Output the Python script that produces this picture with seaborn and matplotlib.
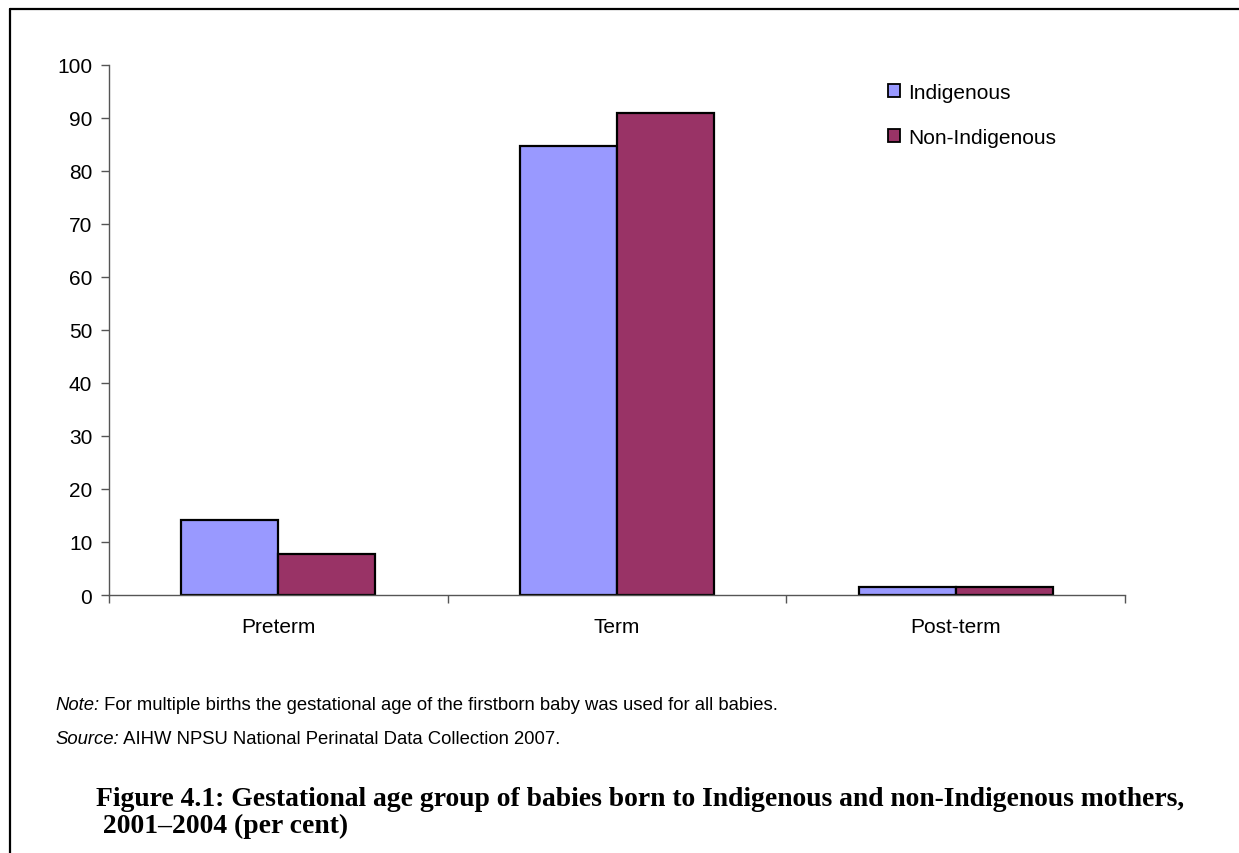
import matplotlib
matplotlib.use("Agg")
import matplotlib.pyplot as plt
from matplotlib.lines import Line2D
from matplotlib.patches import Patch
import pandas as pd
import seaborn as sns

# ---- data ----
categories = ["Preterm", "Term", "Post-term"]
groups = ["Indigenous", "Non-Indigenous"]
indigenous = [14.1, 84.7, 1.5]
non_indigenous = [7.7, 91.0, 1.5]
y_ticks = list(range(0, 101, 10))

PALETTE = {"Indigenous": "#9999FF", "Non-Indigenous": "#993366"}
W, H, DPI = 1239, 854, 100
TICK_FS = 15

sns.set_theme(style="white")
plt.rcParams["font.family"] = ["Liberation Sans", "DejaVu Sans"]
plt.rcParams["text.color"] = "black"
plt.rcParams["xtick.color"] = "black"
plt.rcParams["ytick.color"] = "black"

df = pd.DataFrame({
    "category": categories * 2,
    "group": [groups[0]] * 3 + [groups[1]] * 3,
    "value": indigenous + non_indigenous,
})

fig = plt.figure(figsize=(W / DPI, H / DPI), dpi=DPI)
ax = fig.add_axes([109 / W, 1 - 596 / H, (1125 - 109) / W, (596 - 66) / H])

sns.barplot(data=df, x="category", y="value", hue="group", order=categories,
            hue_order=groups, palette=PALETTE, width=0.573, gap=0,
            edgecolor="black", linewidth=1.6, saturation=1, ax=ax)

ax.set_xlim(-0.5, 2.5)
ax.set_ylim(0, 100)
ax.set_yticks(y_ticks)
ax.set_yticklabels([str(t) for t in y_ticks], fontsize=TICK_FS)
ax.set_xlabel("")
ax.set_ylabel("")

# category ticks sit between groups, labels centred on groups
ax.set_xticks([-0.5, 0.5, 1.5, 2.5])
ax.set_xticklabels([])
ax.set_xticks(range(len(categories)), minor=True)
ax.set_xticklabels(categories, minor=True, fontsize=TICK_FS)
ax.tick_params(axis="x", which="major", direction="out", length=6, width=1,
               color="#555555", bottom=True)
ax.tick_params(axis="x", which="minor", length=0, pad=16)
ax.tick_params(axis="y", direction="out", length=6, width=1, color="#555555",
               left=True, pad=6)

for side in ["top", "right"]:
    ax.spines[side].set_visible(False)
for side in ["left", "bottom"]:
    ax.spines[side].set_color("#555555")
    ax.spines[side].set_linewidth(1)

ax.get_legend().remove()
handles = [Patch(facecolor=PALETTE[g], edgecolor="black", linewidth=1.3) for g in groups]
fig.legend(handles, groups, loc="upper left", bbox_to_anchor=(869 / W, 1 - 65 / H),
           frameon=False, fontsize=TICK_FS, handlelength=0.6, handleheight=0.6,
           handletextpad=0.4, labelspacing=1.25)

# figure frame: top and left rules only
fig.add_artist(Line2D([10 / W, 1], [1 - 10 / H] * 2, color="black", lw=1.6,
                      transform=fig.transFigure))
fig.add_artist(Line2D([10 / W] * 2, [0, 1 - 10 / H], color="black", lw=1.6,
                      transform=fig.transFigure))

# note and source lines: italic lead-in followed by regular text
fig.canvas.draw()
renderer = fig.canvas.get_renderer()
for lead, rest, ypix in [("Note:", " For multiple births the gestational age of the firstborn baby was used for all babies.", 706),
                         ("Source:", " AIHW NPSU National Perinatal Data Collection 2007.", 740)]:
    t = fig.text(55 / W, 1 - ypix / H, lead, fontsize=13.3, style="italic", va="center")
    bb = t.get_window_extent(renderer)
    fig.text(bb.x1 / W, 1 - ypix / H, rest, fontsize=13.3, va="center")

caption = ("Figure 4.1: Gestational age group of babies born to Indigenous and non-Indigenous mothers,\n"
           " 2001\u20132004 (per cent)")
fig.text(96 / W, 1 - 787 / H, caption, fontsize=19.9, fontweight="bold",
         family=["Liberation Serif", "DejaVu Serif"], va="top", linespacing=1.1)

fig.savefig("out.png", dpi=DPI, facecolor="white")
